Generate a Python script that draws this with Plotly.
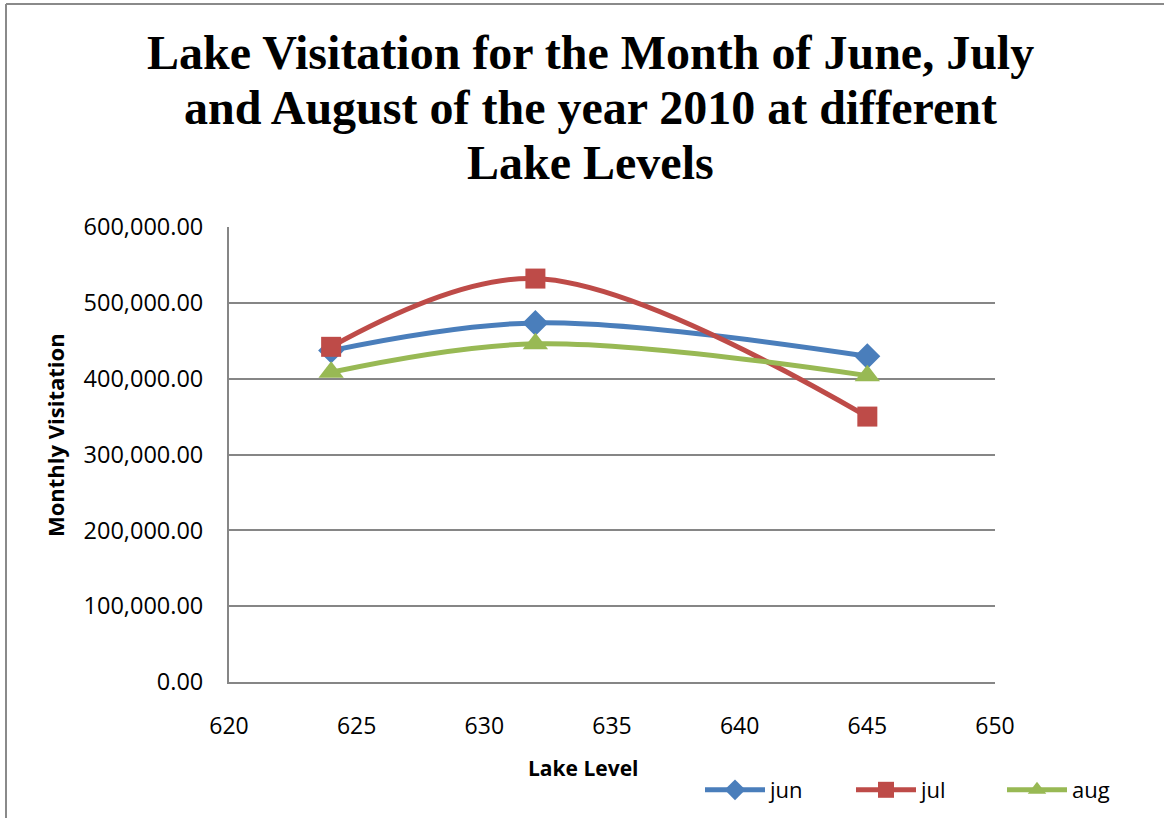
import plotly.graph_objects as go

# Lake levels (feet) and monthly visitation for summer 2010
lake_level = [624, 632, 645]
jun = [437000, 473500, 429500]
jul = [442000, 532000, 350000]
aug = [408500, 446000, 404000]

series_names = ["jun", "jul", "aug"]
series_colors = ["#4A7EBB", "#BE4B48", "#98B954"]
series_symbols = ["diamond", "square", "triangle-up"]

y_ticks = [0, 100000, 200000, 300000, 400000, 500000, 600000]
x_ticks = [620, 625, 630, 635, 640, 645, 650]

W, H = 1164, 818
L, R, T, B = 229, 995, 227, 682  # plot area edges in px


def px_x(p):
    return (p - L) / (R - L)


def px_y(p):
    return (B - p) / (B - T)


fig = go.Figure()
for name, vals, col, sym in zip(series_names, [jun, jul, aug], series_colors, series_symbols):
    fig.add_trace(go.Scatter(
        x=lake_level, y=vals, name=name, mode="lines+markers",
        line=dict(color=col, width=5, shape="spline", smoothing=1.0),
        marker=dict(symbol=sym, size=20 if sym != "triangle-up" else 22, color=col,
                    line=dict(width=0)),
    ))

grid = "#868686"
fig.update_xaxes(
    range=[620, 650], tickvals=x_ticks, ticktext=[str(v) for v in x_ticks],
    showgrid=False, zeroline=False, showline=True, linecolor=grid, linewidth=2,
    ticks="", tickfont=dict(family="Open Sans", size=23, color="#000"),
    ticklabelstandoff=22,
)
fig.update_yaxes(
    range=[0, 600000], tickvals=y_ticks, ticktext=[f"{v:,.2f}" for v in y_ticks],
    showgrid=True, gridcolor=grid, gridwidth=1.5, zeroline=False,
    showline=True, linecolor=grid, linewidth=2,
    ticks="", tickfont=dict(family="Open Sans", size=23.5, color="#000"),
    ticklabelstandoff=19,
)

title_lines = [
    ("Lake Visitation for the Month of June, July", 71),
    ("and August of the year 2010 at different", 126),
    ("Lake Levels", 181),
]
annotations = []
for txt, base in title_lines:
    annotations.append(dict(
        text=f"<b>{txt}</b>", x=px_x(590.5), y=px_y(base + 10), xref="paper", yref="paper",
        xanchor="center", yanchor="bottom", showarrow=False,
        font=dict(family="Liberation Serif", size=48, color="#000"),
    ))
annotations.append(dict(
    text="<b>Lake Level</b>", x=px_x(582.5), y=px_y(768), xref="paper", yref="paper",
    xanchor="center", yanchor="middle", showarrow=False,
    font=dict(family="Open Sans", size=21, color="#000"),
))
annotations.append(dict(
    text="<b>Monthly Visitation</b>", x=px_x(55), y=px_y(435), xref="paper", yref="paper",
    xanchor="center", yanchor="middle", showarrow=False, textangle=-90,
    font=dict(family="Open Sans", size=22, color="#000"),
))

shapes = [
    # chart area frame (top and left edges visible)
    dict(type="line", xref="paper", yref="paper", x0=px_x(6), x1=px_x(1170),
         y0=px_y(4), y1=px_y(4), line=dict(color="#8a8a8a", width=2)),
    dict(type="line", xref="paper", yref="paper", x0=px_x(6), x1=px_x(6),
         y0=px_y(4), y1=px_y(830), line=dict(color="#8a8a8a", width=2)),
]

fig.update_layout(
    width=W, height=H,
    margin=dict(l=L, r=W - R, t=T, b=H - B, autoexpand=False),
    paper_bgcolor="white", plot_bgcolor="white",
    showlegend=True,
    legend=dict(
        orientation="h", x=px_x(700), y=px_y(790), xanchor="left", yanchor="middle",
        font=dict(family="Open Sans", size=22, color="#000"),
        itemwidth=60, entrywidth=76, entrywidthmode="pixels",
        bgcolor="rgba(0,0,0,0)", tracegroupgap=0,
    ),
    annotations=annotations, shapes=shapes,
    hovermode=False,
)

fig.write_html("out.html")
